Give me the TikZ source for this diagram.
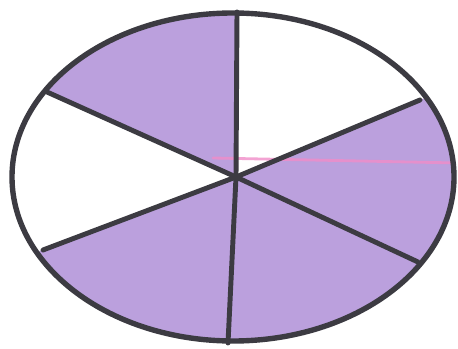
\documentclass[tikz,border=0pt]{standalone}
\usepackage{tikz}
\usetikzlibrary{calc}
\usepackage{xcolor}
\definecolor{shadecolor}{HTML}{BBA0DD}
\definecolor{rimcolor}{HTML}{3C3B42}
\definecolor{streakcolor}{HTML}{F08CC8}

\begin{document}
\begin{tikzpicture}[x=0.03cm, y=-0.03cm, line cap=round,
    rim/.style={line width=4.6pt, color=rimcolor},
    spoke/.style={line width=4.2pt, color=rimcolor}]
    \useasboundingbox (0,0) rectangle (458,349);
    \coordinate (C) at (236,177);
    \coordinate (T) at (237,12);
    \coordinate (UR) at (420,100);
    \coordinate (LR) at (418,262);
    \coordinate (B) at (228,343);
    \coordinate (LL) at (43,250);
    \coordinate (UL) at (47,92);

    \begin{scope}
        \clip (233,177) ellipse [x radius=221, y radius=164];
        \fill[shadecolor] (C) -- ($(C)!1.5!(UR)$) -- (470,360) -- (-10,360) -- ($(C)!1.5!(LL)$) -- cycle;
        \fill[shadecolor] (C) -- ($(C)!1.5!(UL)$) -- (-10,-10) -- ($(C)!1.5!(T)$) -- cycle;
        \draw[streakcolor, line width=2.4pt, opacity=0.8] (213,158) -- (458,163);
    \end{scope}

    \foreach \p in {T,UR,LR,B,LL,UL}
        \draw[spoke] (C) -- (\p);
    \draw[rim] (233,177) ellipse [x radius=221, y radius=164];
\end{tikzpicture}
\end{document}
